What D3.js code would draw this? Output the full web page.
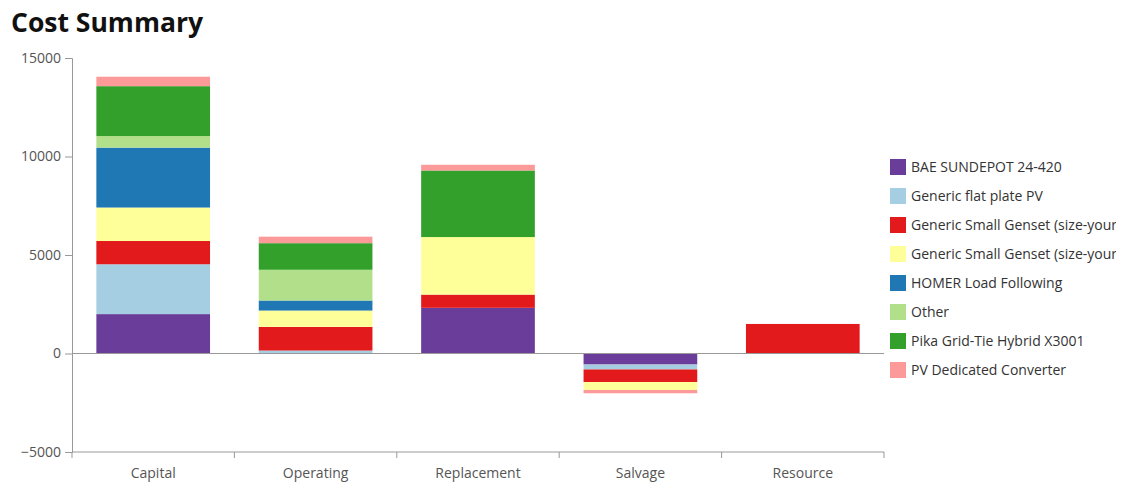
<!DOCTYPE html>
<html><head><meta charset="utf-8">
<script src="https://cdn.jsdelivr.net/npm/d3@7"></script>
<style>
body{margin:0;background:#fff;}
text{font-family:"Open Sans","Noto Sans",sans-serif;}
</style></head>
<body>
<svg id="c" width="1122" height="484"></svg>
<script>
const categories = ["Capital","Operating","Replacement","Salvage","Resource"];
const seriesNames = [
  "BAE SUNDEPOT 24-420",
  "Generic flat plate PV",
  "Generic Small Genset (size-your-own)",
  "Generic Small Genset (size-your-own)",
  "HOMER Load Following",
  "Other",
  "Pika Grid-Tie Hybrid X3001",
  "PV Dedicated Converter"
];
const bae      = [2000,    0, 2320, -560,    0];
const flatPV   = [2530,  150,    0, -250,    0];
const gensetA  = [1180, 1200,  670, -640, 1500];
const gensetB  = [1700,  830, 2920, -400,    0];
const homer    = [3040,  510,    0,    0,    0];
const other    = [ 590, 1560,    0,    0,    0];
const pika     = [2530, 1350, 3380,    0,    0];
const pvConv   = [ 480,  330,  290, -170,    0];
const seriesValues = [bae, flatPV, gensetA, gensetB, homer, other, pika, pvConv];
const colors = ["#6a3d9a","#a6cee3","#e31a1c","#ffff99","#1f78b4","#b2df8a","#33a02c","#fb9a99"];
const yTicks = [-5000, 0, 5000, 10000, 15000];

const svg = d3.select("#c");
const mLeft = 72, mRight = 884, mTop = 58, mBottom = 452;

svg.append("text").attr("x", 11).attr("y", 32).attr("font-size", 26.5).attr("font-weight", 700)
  .attr("fill", "#111").text("Cost Summary");

const x = d3.scaleBand().domain(categories).range([mLeft, mRight]).paddingInner(0.3).paddingOuter(0.15);
const y = d3.scaleLinear().domain([-5000, 15000]).range([mBottom, mTop]);

const rows = categories.map((c, i) => {
  const r = {cat: c};
  seriesValues.forEach((s, k) => r["s" + k] = s[i]);
  return r;
});
const keys = seriesValues.map((s, k) => "s" + k);
const stacked = d3.stack().keys(keys).offset(d3.stackOffsetDiverging)(rows);

stacked.forEach((layer, k) => {
  svg.append("g").selectAll("rect").data(layer).join("rect")
    .attr("x", d => x(d.data.cat))
    .attr("width", x.bandwidth())
    .attr("y", d => y(Math.max(d[0], d[1])))
    .attr("height", d => Math.abs(y(d[0]) - y(d[1])))
    .attr("fill", colors[k]);
});

// zero line
svg.append("line").attr("x1", mLeft).attr("x2", mRight).attr("y1", y(0)).attr("y2", y(0))
  .attr("stroke", "#999").attr("stroke-width", 1);

// y axis
const yAxis = svg.append("g").attr("transform", `translate(${mLeft},0)`)
  .call(d3.axisLeft(y).tickValues(yTicks).tickSize(7).tickPadding(4).tickFormat(d3.format("d")));
yAxis.select(".domain").attr("stroke", "#999");
yAxis.selectAll(".tick line").attr("stroke", "#999");
yAxis.selectAll("text").attr("font-size", 14).attr("fill", "#555").attr("font-family", "\"Open Sans\",sans-serif");

// x axis at bottom with ticks at band boundaries
const xAxisG = svg.append("g").attr("transform", `translate(0,${mBottom})`);
xAxisG.append("line").attr("x1", mLeft).attr("x2", mRight).attr("stroke", "#999");
const step = (mRight - mLeft) / categories.length;
const boundaries = d3.range(categories.length + 1).map(i => mLeft + i * step);
xAxisG.selectAll("line.tk").data(boundaries).join("line").attr("class", "tk")
  .attr("x1", d => d).attr("x2", d => d).attr("y1", 0).attr("y2", 6).attr("stroke", "#999");
xAxisG.selectAll("text").data(categories).join("text")
  .attr("x", d => x(d) + x.bandwidth() / 2).attr("y", 26)
  .attr("text-anchor", "middle").attr("font-size", 14).attr("fill", "#555").text(d => d);

// legend (text clipped at the right, as in the original)
svg.append("clipPath").attr("id", "lc").append("rect").attr("x", 880).attr("y", 140).attr("width", 236).attr("height", 250);
const lg = svg.append("g").attr("clip-path", "url(#lc)");
seriesNames.forEach((n, k) => {
  const cy = 167 + k * 29;
  lg.append("rect").attr("x", 890).attr("y", cy - 8).attr("width", 16).attr("height", 16).attr("fill", colors[k]);
  lg.append("text").attr("x", 911).attr("y", cy + 5).attr("font-size", 14).attr("fill", "#333").text(n);
});
</script>
</body></html>
